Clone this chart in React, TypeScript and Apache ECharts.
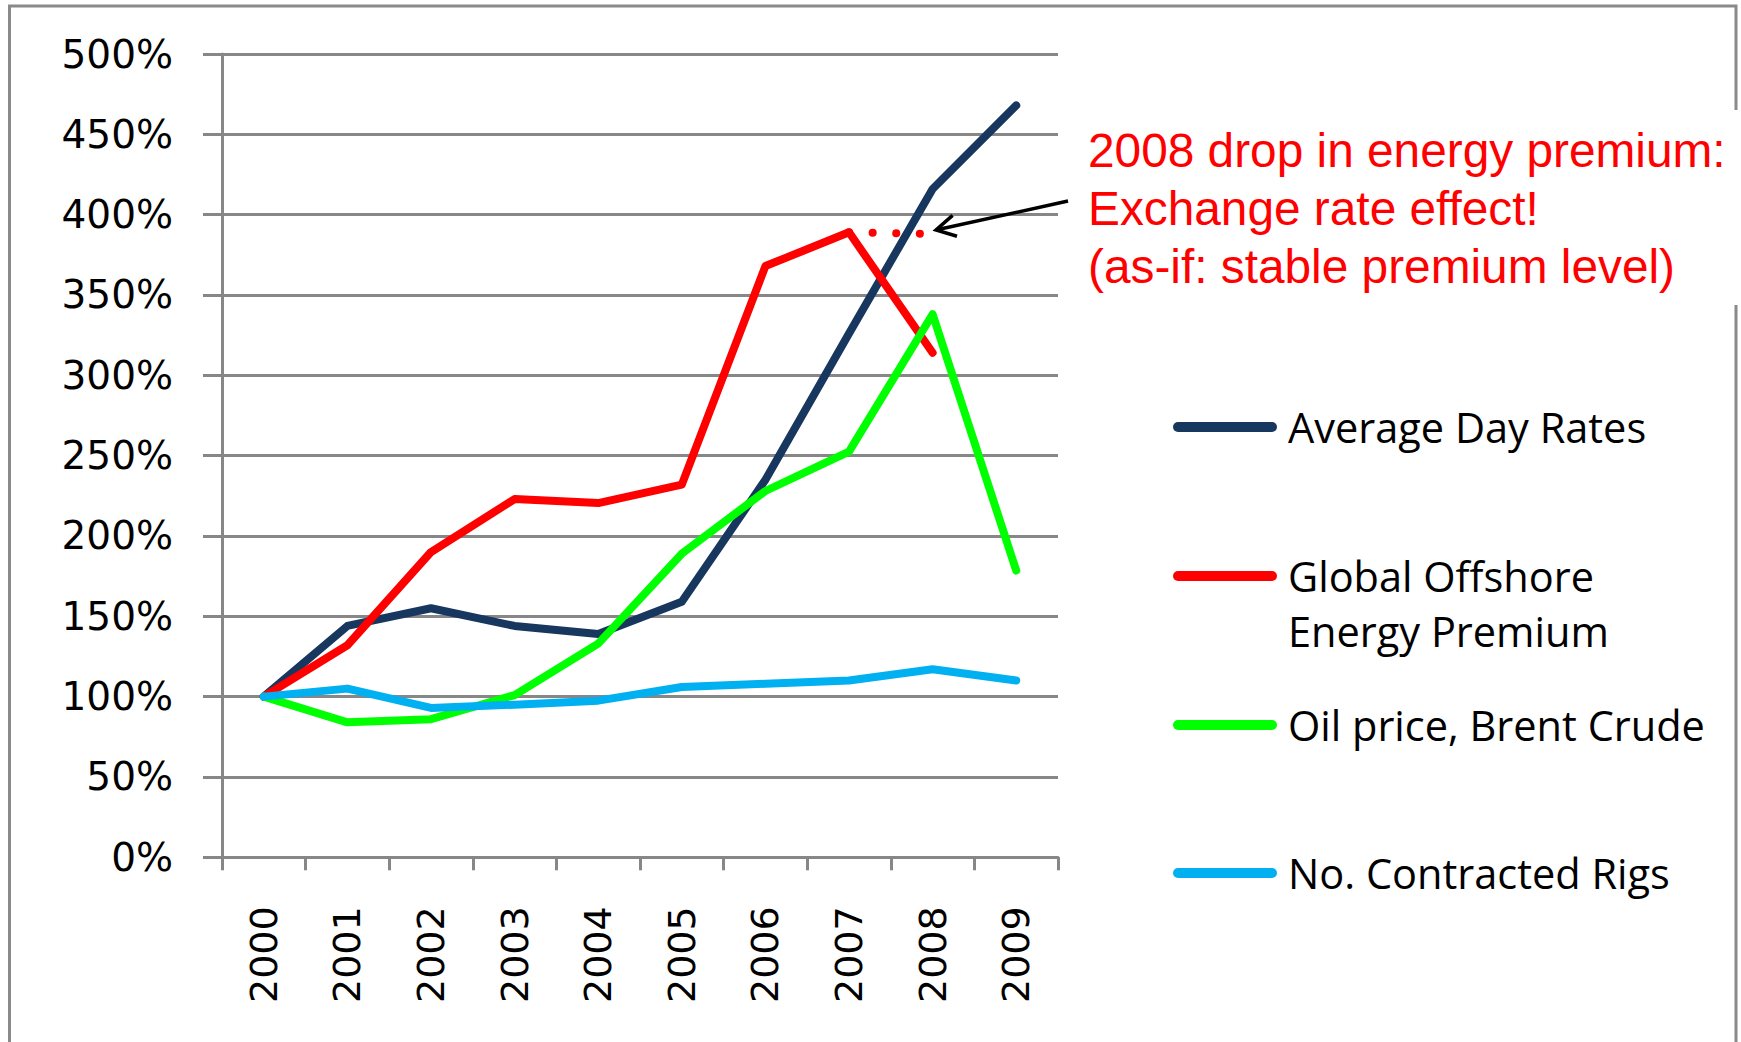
import React, { useEffect, useRef } from "react";
import * as echarts from "echarts";

// Years on the category axis
const years = ["2000", "2001", "2002", "2003", "2004", "2005", "2006", "2007", "2008", "2009"];

// Indexed series (2000 = 100%)
const avgDayRates = [100, 144, 155, 144, 139, 159, 235, 326, 416, 468];
const energyPremium = [100, 132, 190, 223, 220.5, 232, 368, 389, 314, null];
const premiumAsIf = [null, null, null, null, null, null, null, 389, 388, null];
const brentOil = [100, 84, 86, 101, 133, 189, 228, 252.5, 338, 178.5];
const contractedRigs = [100, 105, 93, 95, 97.5, 106, 108, 110, 117, 110];

// Legend entries (each line of a label is one element)
const legendNames = [
  ["Average Day Rates"],
  ["Global Offshore", "Energy Premium"],
  ["Oil price, Brent Crude"],
  ["No. Contracted Rigs"],
];
const seriesColors = ["#17375E", "#FF0000", "#00FF00", "#00B0F0"];

// Annotation about the 2008 premium drop
const noteLines = [
  "2008 drop in energy premium:",
  "Exchange rate effect!",
  "(as-if: stable premium level)",
];

const GRID = "#878787";

export default function App() {
  const ref = useRef<HTMLDivElement>(null);

  useEffect(() => {
    if (!ref.current) return;
    const chart = echarts.init(ref.current, null, { renderer: "svg" });

    const lineSeries = (name: string, data: (number | null)[], color: string) => ({
      name,
      type: "line",
      data,
      symbol: "none",
      connectNulls: false,
      lineStyle: { color, width: 8, cap: "round", join: "round" },
    });

    const legendY = [427, 576, 725, 873];
    const legendGraphics: any[] = [];
    legendNames.forEach((lines, i) => {
      legendGraphics.push({
        type: "line",
        z: 5,
        shape: { x1: 1178, y1: legendY[i], x2: 1272, y2: legendY[i] },
        style: { stroke: seriesColors[i], lineWidth: 10, lineCap: "round" },
      });
      lines.forEach((t, j) => {
        legendGraphics.push({
          type: "text",
          z: 5,
          x: 1288,
          y: legendY[i] + j * 55,
          style: {
            text: t,
            fill: "#000",
            fontSize: 41.5,
            fontFamily: "Open Sans",
            align: "left",
            verticalAlign: "middle",
          },
        });
      });
    });

    const noteGraphics = noteLines.map((t, i) => ({
      type: "text",
      z: 5,
      x: 1088,
      y: 150 + i * 58,
      style: {
        text: t,
        fill: "#FF0000",
        fontSize: 47.8,
        fontFamily: "Liberation Sans",
        align: "left",
        verticalAlign: "middle",
      },
    }));

    chart.setOption({
      animation: false,
      backgroundColor: "#ffffff",
      grid: { left: 222, right: 683, top: 54, bottom: 184.7, containLabel: false },
      xAxis: {
        type: "category",
        data: years,
        boundaryGap: true,
        axisLine: { lineStyle: { color: GRID, width: 3 } },
        axisTick: { show: true, length: 13, lineStyle: { color: GRID, width: 3 } },
        axisLabel: {
          rotate: 90,
          margin: 49,
          color: "#000",
          fontSize: 38,
          fontFamily: "DejaVu Sans",
        },
        splitLine: { show: false },
      },
      yAxis: {
        type: "value",
        min: 0,
        max: 500,
        interval: 50,
        axisLine: { show: true, lineStyle: { color: GRID, width: 3 } },
        axisTick: { show: true, length: 19, lineStyle: { color: GRID, width: 3 } },
        axisLabel: {
          margin: 49,
          color: "#000",
          fontSize: 39,
          fontFamily: "DejaVu Sans",
          formatter: (v: number) => `${v}%`,
        },
        splitLine: { show: true, lineStyle: { color: GRID, width: 3 } },
      },
      series: [
        lineSeries("Average Day Rates", avgDayRates, seriesColors[0]),
        lineSeries("Global Offshore Energy Premium", energyPremium, seriesColors[1]),
        {
          name: "Energy Premium (as-if)",
          type: "line",
          data: premiumAsIf,
          symbol: "none",
          lineStyle: { color: "#FF0000", width: 8, cap: "round", type: [0.1, 23.5] },
        },
        lineSeries("Oil price, Brent Crude", brentOil, seriesColors[2]),
        lineSeries("No. Contracted Rigs", contractedRigs, seriesColors[3]),
      ],
      graphic: [
        {
          type: "rect",
          z: 0,
          silent: true,
          shape: { x: 9.5, y: 6, width: 1726.5, height: 1100 },
          style: { fill: "transparent", stroke: "#8a8a8a", lineWidth: 3 },
        },
        {
          type: "rect",
          z: 1,
          silent: true,
          shape: { x: 1080, y: 110, width: 661, height: 195 },
          style: { fill: "#ffffff" },
        },
        ...noteGraphics,
        {
          type: "polyline",
          z: 6,
          shape: { points: [[1068, 201], [937, 229.8]] },
          style: { stroke: "#000", lineWidth: 3.5, fill: "none" },
        },
        {
          type: "polyline",
          z: 6,
          shape: { points: [[952.6, 215.4], [936, 230], [957, 236.3]] },
          style: { stroke: "#000", lineWidth: 3.5, fill: "none", lineJoin: "miter" },
        },
        ...legendGraphics,
      ],
    });

    return () => chart.dispose();
  }, []);

  return (
    <div
      ref={ref}
      style={{ position: "absolute", left: 0, top: 0, width: 1741, height: 1042 }}
    />
  );
}
